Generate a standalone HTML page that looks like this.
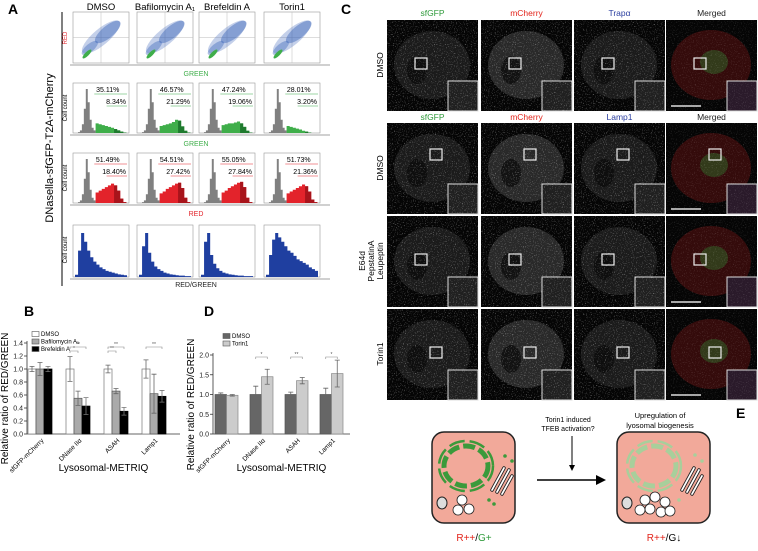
<!DOCTYPE html>
<html><head><meta charset="utf-8">
<style>
html,body{margin:0;padding:0;background:#fff;}
body{width:758px;height:546px;overflow:hidden;font-family:"Liberation Sans",sans-serif;}
svg text{font-family:"Liberation Sans",sans-serif;}
</style></head>
<body>
<svg id="fig" width="758" height="546" viewBox="0 0 758 546" xmlns="http://www.w3.org/2000/svg">
<defs>
 <filter id="grain" x="0" y="0" width="100%" height="100%">
  <feTurbulence type="fractalNoise" baseFrequency="0.9" numOctaves="1" seed="3" result="n"/>
  <feColorMatrix in="n" type="matrix" values="0 0 0 0 1  0 0 0 0 1  0 0 0 0 1  4 0 0 0 -2.3" result="a"/>
  <feComposite in="a" in2="SourceGraphic" operator="in"/>
 </filter>
</defs>
<g id="panelA"></g>
<g id="panelB"></g>
<g id="panelD"></g>
<g id="panelC"></g>
<g id="panelE">
 <text x="736" y="418" font-size="14" font-weight="bold">E</text>
 <rect x="432" y="432" width="83" height="91" rx="12" fill="#f2a99a" stroke="#222" stroke-width="1.5"/>
 <ellipse cx="466" cy="466" rx="22" ry="20" fill="none" stroke="#3b9a3b" stroke-width="5" stroke-dasharray="12 4"/>
 <ellipse cx="466" cy="466" rx="27" ry="25" fill="none" stroke="#3b9a3b" stroke-width="2.5" stroke-dasharray="16 5"/>
 <g stroke="#222" fill="none" stroke-width="3.5" stroke-linecap="round">
  <path d="M492,490 L504,468" /><path d="M497,492 L509,470"/><path d="M502,494 L512,476"/>
 </g>
 <g stroke="#fff" fill="none" stroke-width="1.8" stroke-linecap="round">
  <path d="M492,490 L504,468" /><path d="M497,492 L509,470"/><path d="M502,494 L512,476"/>
 </g>
 <circle cx="505" cy="456" r="1.8" fill="#3b9a3b"/><circle cx="512" cy="461" r="1.8" fill="#3b9a3b"/><circle cx="489" cy="500" r="1.8" fill="#3b9a3b"/><circle cx="494" cy="504" r="1.8" fill="#3b9a3b"/>
 <ellipse cx="442" cy="503" rx="5" ry="6" fill="#ddd" stroke="#222"/>
 <circle cx="462" cy="500" r="5" fill="#fff" stroke="#222" stroke-width="0.8"/>
 <circle cx="458" cy="510" r="5" fill="#fff" stroke="#222" stroke-width="0.8"/>
 <circle cx="469" cy="509" r="5" fill="#fff" stroke="#222" stroke-width="0.8"/>
 <rect x="617" y="432" width="93" height="91" rx="12" fill="#f2a99a" stroke="#222" stroke-width="1.5"/>
 <ellipse cx="654" cy="466" rx="22" ry="20" fill="none" stroke="#a8cf9b" stroke-width="5" stroke-dasharray="12 4"/>
 <ellipse cx="654" cy="466" rx="27" ry="25" fill="none" stroke="#a8cf9b" stroke-width="2.5" stroke-dasharray="16 5"/>
 <g stroke="#222" fill="none" stroke-width="3.5" stroke-linecap="round">
  <path d="M682,490 L694,468" /><path d="M687,492 L699,470"/><path d="M692,494 L702,476"/>
 </g>
 <g stroke="#fff" fill="none" stroke-width="1.8" stroke-linecap="round">
  <path d="M682,490 L694,468" /><path d="M687,492 L699,470"/><path d="M692,494 L702,476"/>
 </g>
 <circle cx="695" cy="455" r="1.8" fill="#a8cf9b"/><circle cx="702" cy="461" r="1.8" fill="#a8cf9b"/><circle cx="679" cy="500" r="1.8" fill="#a8cf9b"/>
 <ellipse cx="627" cy="503" rx="5" ry="6" fill="#ddd" stroke="#222"/>
 <g fill="#fff" stroke="#222" stroke-width="0.8">
  <circle cx="645" cy="500" r="5"/><circle cx="655" cy="497" r="5"/><circle cx="665" cy="502" r="5"/><circle cx="650" cy="509" r="5"/><circle cx="661" cy="512" r="5"/><circle cx="640" cy="510" r="5"/><circle cx="670" cy="511" r="5"/>
 </g>
 <line x1="537" y1="480" x2="598" y2="480" stroke="#000" stroke-width="1.5"/>
 <polygon points="596,475 606,480 596,485" fill="#000"/>
 <line x1="572" y1="436" x2="572" y2="466" stroke="#000" stroke-width="1"/>
 <polygon points="569,465 572,471 575,465" fill="#000"/>
 <text x="568" y="422" font-size="7" text-anchor="middle">Torin1 induced</text>
 <text x="568" y="431" font-size="7" text-anchor="middle">TFEB activation?</text>
 <text x="660" y="418" font-size="7.5" text-anchor="middle">Upregulation of</text>
 <text x="660" y="428" font-size="7.5" text-anchor="middle">lyosomal biogenesis</text>
 <text x="474" y="541" font-size="10" text-anchor="middle"><tspan fill="#e2231a">R++</tspan>/<tspan fill="#2e9a3a">G+</tspan></text>
 <text x="664" y="541" font-size="10" text-anchor="middle"><tspan fill="#e2231a">R++</tspan>/G↓</text>
</g>
</svg>
<script>
const NS="http://www.w3.org/2000/svg";
function mk(parent,tag,attrs,txt){const e=document.createElementNS(NS,tag);for(const k in attrs)e.setAttribute(k,attrs[k]);if(txt!==undefined)e.textContent=txt;parent.appendChild(e);return e;}

/* ---------------- Panel B data ---------------- */
const bCategories=["sfGFP-mCherry","DNase IIα","ASAH","Lamp1"];
const bSeries=["DMSO","Bafilomycin A₁","Brefeldin A"];
const bDMSO=[1.0,1.0,1.0,1.0];
const bDMSOerr=[0.04,0.19,0.06,0.14];
const bBaf=[1.0,0.55,0.66,0.62];
const bBafErr=[0.1,0.11,0.04,0.3];
const bBref=[1.0,0.43,0.35,0.58];
const bBrefErr=[0.04,0.13,0.06,0.09];
const bTicks=[0,0.2,0.4,0.6,0.8,1.0,1.2,1.4];
/* ---------------- Panel D data ---------------- */
const dCategories=["sfGFP-mCherry","DNase IIα","ASAH","Lamp1"];
const dSeries=["DMSO","Torin1"];
const dDMSO=[1.0,1.0,1.0,1.0];
const dDMSOerr=[0.04,0.21,0.06,0.16];
const dTorin=[0.98,1.45,1.35,1.53];
const dTorinErr=[0.02,0.19,0.08,0.34];
const dTicks=[0,0.5,1.0,1.5,2.0];

function barChart(g,o){
  const y0=434,ax=o.ax;
  const ys=v=>y0-(v/o.max)*(y0-o.top);
  mk(g,"text",{x:o.lx,y:316,"font-size":14,"font-weight":"bold",},o.letter);
  mk(g,"line",{x1:ax,y1:ys(o.max)-2,x2:ax,y2:y0,stroke:"#333","stroke-width":0.8,});
  mk(g,"line",{x1:ax,y1:y0,x2:o.right,y2:y0,stroke:"#333","stroke-width":0.8,});
  o.ticks.forEach(t=>{
    const l=mk(g,"line",{x1:ax-3,y1:ys(t),x2:ax,y2:ys(t),stroke:"#333","stroke-width":0.8});
    
    
    const tx=mk(g,"text",{x:ax-4,y:ys(t)+2.5,"font-size":7,"text-anchor":"end",fill:"#222"},o.fmt(t));
    
    
  });
  const yl=mk(g,"text",{x:0,y:0,"font-size":10,"text-anchor":"middle",transform:`translate(${ax-19},${(y0+ys(o.max))/2+10}) rotate(-90)`},"Relative ratio of RED/GREEN");
  
  
  const xl=mk(g,"text",{x:(ax+o.right)/2,y:471,"font-size":10,"text-anchor":"middle"},"Lysosomal-METRIQ");
  
  
  const n=o.series.length,bw=o.bw;
  o.categories.forEach((c,i)=>{
    const gx=ax+o.first+i*o.step;
    o.series.forEach((s,j)=>{
      const v=s.vals[i],e=s.err[i],x=gx+j*bw;
      const r=mk(g,"rect",{x:x,y:ys(v),width:bw,height:y0-ys(v),fill:s.fill,stroke:s.stroke||"#555","stroke-width":0.7});
      
      
      const cx=x+bw/2;
      mk(g,"path",{d:`M${cx},${ys(v+e)}V${ys(v-e)}M${cx-2.5},${ys(v+e)}h5M${cx-2.5},${ys(v-e)}h5`,stroke:s.err_col||"#666","stroke-width":0.8,fill:"none"});
    });
    const lab=mk(g,"text",{x:0,y:0,"font-size":6.5,"text-anchor":"end",transform:`translate(${gx+n*bw/2+4},${y0+7}) rotate(-45)`},c);
    
    
  });
  o.series.forEach((s,j)=>{
    const ly=o.legY+j*7.5;
    mk(g,"rect",{x:o.legX,y:ly-4.5,width:7,height:5,fill:s.fill,stroke:"#555","stroke-width":0.6});
    const t=mk(g,"text",{x:o.legX+9,y:ly,"font-size":6},s.name);
    
    
  });
  (o.sig||[]).forEach(sg=>{
    const x1=ax+o.first+sg[0]*o.step+sg[1]*bw+bw/2,x2=ax+o.first+sg[0]*o.step+sg[2]*bw+bw/2,yy=sg[3];
    mk(g,"path",{d:`M${x1},${yy+2}V${yy}H${x2}V${yy+2}`,stroke:"#888","stroke-width":0.6,fill:"none"});
    mk(g,"text",{x:(x1+x2)/2,y:yy-1,"font-size":5,"text-anchor":"middle",fill:"#555"},sg[4]);
  });
}
barChart(document.getElementById("panelB"),{letter:"B",name:"panel-b",lx:24,ax:27,top:343,max:1.4,right:180,ticks:bTicks,fmt:t=>t.toFixed(1),
 categories:bCategories,first:1,step:38,bw:8,legX:32,legY:336,
 series:[{key:"dmso",name:bSeries[0],vals:bDMSO,err:bDMSOerr,fill:"#fff",stroke:"#777"},
         {key:"bafilomycin",name:bSeries[1],vals:bBaf,err:bBafErr,fill:"#aaa"},
         {key:"brefeldin",name:bSeries[2],vals:bBref,err:bBrefErr,fill:"#000",stroke:"#000",err_col:"#777"}],
 sig:[[1,0,1,351,"*"],[1,0,2,347,"**"],[2,0,1,351,"**"],[2,0,2,347,"**"],[3,0,2,347,"**"]]});
barChart(document.getElementById("panelD"),{letter:"D",name:"panel-d",lx:204,ax:213,top:355,max:2.0,right:350,ticks:dTicks,fmt:t=>t.toFixed(1),
 categories:dCategories,first:2,step:35,bw:11.5,legX:223,legY:338,
 series:[{key:"dmso",name:dSeries[0],vals:dDMSO,err:dDMSOerr,fill:"#666",stroke:"#555"},
         {key:"torin1",name:dSeries[1],vals:dTorin,err:dTorinErr,fill:"#ccc",stroke:"#888"}],
 sig:[[1,0,1,357,"*"],[2,0,1,357,"**"],[3,0,1,357,"*"]]});

/* ---------------- Panel A ---------------- */
const aConditions=["DMSO","Bafilomycin A₁","Brefeldin A","Torin1"];
const aGreenPct=["35.11%","46.57%","47.24%","28.01%"];
const aGreenHiPct=["8.34%","21.29%","19.06%","3.20%"];
const aRedPct=["51.49%","54.51%","55.05%","51.73%"];
const aRedHiPct=["18.40%","27.42%","27.84%","21.36%"];
const histGray=[0,2,6,20,55,100,70,30,12,6];
const greenTail=[[22,20,18,16,14,12,9,6,3,1],[16,18,20,22,25,30,28,15,5,1],[18,20,22,22,24,26,22,14,5,1],[16,14,12,10,8,5,3,1,0,0]];
const redTail=[[24,28,32,36,40,44,40,28,10,2],[22,26,32,36,40,44,46,34,12,2],[24,28,34,38,42,46,48,36,12,2],[22,26,30,34,38,42,38,26,8,2]];
const ratioHist=[[5,60,100,80,60,45,35,28,22,18,14,12,10,8,6,5,4],[5,70,100,55,35,24,18,14,10,8,6,5,4,3,3,2,2],[5,80,100,50,30,20,14,10,8,6,5,4,3,3,2,2,2],[5,50,85,100,90,80,70,60,55,48,40,36,32,28,22,18,14]];
const aCols=[73,137,199,264];
const aW=56;
const gA=document.getElementById("panelA");
mk(gA,"text",{x:8,y:14,"font-size":14,"font-weight":"bold",},"A");
mk(gA,"line",{x1:62,y1:12,x2:62,y2:286,stroke:"#000","stroke-width":1,});
mk(gA,"text",{x:0,y:0,"font-size":11,"text-anchor":"middle",transform:"translate(53,148) rotate(-90)",},"DNasella-sfGFP-T2A-mCherry");
function hist(g,x0,yb,h,w,arr,maxv,col){
  const bw=w/arr.length;let d=`M${x0},${yb}`;
  arr.forEach((v,i)=>{const y=yb-v/maxv*h;d+=`L${x0+i*bw},${y}L${x0+(i+1)*bw},${y}`;});
  d+=`L${x0+w},${yb}Z`;
  const p=mk(g,"path",{d:d,fill:col});
  
  
}
aConditions.forEach((c,i)=>{
  const x=aCols[i];
  const h=mk(gA,"text",{x:x+aW/2,y:10,"font-size":9.5,"text-anchor":"middle"},c);
  
  
  const sc=mk(gA,"rect",{x:x,y:12,width:aW,height:51,fill:"#fff",stroke:"#999","stroke-width":0.6});
  
  
  mk(gA,"path",{d:`M${x+aW/2},${y=12}V63M${x},37.5H${x+aW}`,stroke:"#bbb","stroke-width":0.5});
  [[x+aW/2,37,24,8,0.3],[x+aW*0.62,32,16,6,0.45],[x+aW*0.3,48,10,4,0.4]].forEach(e=>{
    mk(gA,"ellipse",{cx:e[0],cy:e[1],rx:e[2],ry:e[3],fill:"#3a63b8",opacity:e[4],transform:`rotate(-40 ${e[0]} ${e[1]})`});
  });
  mk(gA,"ellipse",{cx:x+14,cy:54,rx:6,ry:2,fill:"#3fae4a",transform:`rotate(-45 ${x+14} 54)`});
  const rows=[[83,133,greenTail[i],"#3fae4a","#1f7a2e",aGreenPct[i],aGreenHiPct[i],"#3fae4a"],[153,203,redTail[i],"#e3232b","#a8141b",aRedPct[i],aRedHiPct[i],"#e3232b"]];
  rows.forEach(r=>{
    const fr=mk(gA,"rect",{x:x,y:r[0],width:aW,height:r[1]-r[0],fill:"#fff",stroke:"#999","stroke-width":0.6});
    
    
    hist(gA,x+3,r[1],44,aW*0.35,histGray,100,"#808080");
    hist(gA,x+3+aW*0.35,r[1],44,aW*0.55,r[2],100,r[3]);
    hist(gA,x+3+aW*0.35+aW*0.55*0.6,r[1],44,aW*0.55*0.4,r[2].slice(6),100,r[4]);
    mk(gA,"text",{x:x+aW*0.62,y:r[0]+9,"font-size":7,"text-anchor":"middle"},r[5]);
    mk(gA,"line",{x1:x+aW*0.38,y1:r[0]+11,x2:x+aW-2,y2:r[0]+11,stroke:r[7],"stroke-width":0.6});
    mk(gA,"text",{x:x+aW-3,y:r[0]+21,"font-size":7,"text-anchor":"end"},r[6]);
    mk(gA,"line",{x1:x+aW*0.6,y1:r[0]+23,x2:x+aW-2,y2:r[0]+23,stroke:r[7],"stroke-width":0.6});
  });
  const fr4=mk(gA,"rect",{x:x,y:225,width:aW,height:52,fill:"#fff",stroke:"#999","stroke-width":0.6});
  
  
  hist(gA,x+2,277,44,aW-4,ratioHist[i],100,"#1f3fa0");
});
[["GREEN",76,"#3fae4a",65],["GREEN",146,"#3fae4a",135],["RED",216,"#e3232b",205],["RED/GREEN",287,"#222",279]].forEach(l=>{
  mk(gA,"line",{x1:70,y1:l[3],x2:330,y2:l[3],stroke:"#444","stroke-width":0.6});
  const t=mk(gA,"text",{x:196,y:l[1],"font-size":7,"text-anchor":"middle",fill:l[2]},l[0]);
  
  
});
mk(gA,"text",{x:0,y:0,"font-size":6,"text-anchor":"middle",fill:"#e3232b",transform:"translate(67,38) rotate(-90)"},"RED");
[108,178,250].forEach(y=>mk(gA,"text",{x:0,y:0,"font-size":6,"text-anchor":"middle",transform:`translate(67,${y}) rotate(-90)`},"Cell count"));

/* ---------------- Panel C ---------------- */
const gC=document.getElementById("panelC");
mk(gC,"text",{x:341,y:14,"font-size":14,"font-weight":"bold",},"C");
const cCols=[387,481,574,666];const cW=91;
const cRows=[[20,"DMSO"],[123,"DMSO"],[216,"E64d|PepstatinA|Leupeptin"],[309,"Torin1"]];
const head1=[["sfGFP","#2e9a3a"],["mCherry","#e2231a"],["Trapα","#2b3fa0"],["Merged","#222"]];
const head2=[["sfGFP","#2e9a3a"],["mCherry","#e2231a"],["Lamp1","#2b3fa0"],["Merged","#222"]];
head1.forEach((h,i)=>mk(gC,"text",{x:cCols[i]+cW/2,y:16,"font-size":8.5,"text-anchor":"middle",fill:h[1],},h[0]));
head2.forEach((h,i)=>mk(gC,"text",{x:cCols[i]+cW/2,y:120,"font-size":8.5,"text-anchor":"middle",fill:h[1],},h[0]));
cRows.forEach((r,ri)=>{
  const y=r[0];
  const parts=r[1].split("|");
  parts.forEach((p,k)=>{
    mk(gC,"text",{x:0,y:0,"font-size":8.5,"text-anchor":"middle",transform:`translate(${383-(parts.length-1-k)*9},${y+45}) rotate(-90)`,},p);
  });
  cCols.forEach((x,ci)=>{
    const img=mk(gC,"g",{});
    
    
    mk(img,"rect",{x:x,y:y,width:cW,height:91,fill:"#050505"});
    if(ci===3){
      mk(img,"ellipse",{cx:x+45,cy:y+45,rx:40,ry:35,fill:"#3a0c0c",opacity:0.9});
      mk(img,"ellipse",{cx:x+48,cy:y+42,rx:14,ry:12,fill:"#2f6a2a",opacity:0.5});
    } else {
      const c=ci===1?"#2e2e2e":"#1e1e1e";
      mk(img,"ellipse",{cx:x+45,cy:y+45,rx:38,ry:34,fill:c,opacity:0.9});
      mk(img,"ellipse",{cx:x+30,cy:y+50,rx:10,ry:14,fill:"#080808",opacity:0.7});
    }
    mk(img,"rect",{x:x+cW-30,y:y+61,width:30,height:30,fill:ci===3?"#2a1a2a":"#202020"});
    mk(img,"rect",{x:x,y:y,width:cW,height:91,fill:ci===3?"#c88":"#fff",filter:"url(#grain)",opacity:ci===3?0.2:0.45});
    mk(img,"rect",{x:x+cW-30,y:y+61,width:30,height:30,fill:"none",stroke:"#ddd","stroke-width":1});
    mk(img,"rect",{x:x+28+(ri%2)*15,y:y+38+(ri===1?-12:0),width:12,height:11,fill:"none",stroke:"#eee","stroke-width":1.2});
    if(ci===3) mk(img,"line",{x1:x+5,y1:y+86,x2:x+35,y2:y+86,stroke:"#ddd","stroke-width":1.5});
  });
});
</script>
</body></html>
